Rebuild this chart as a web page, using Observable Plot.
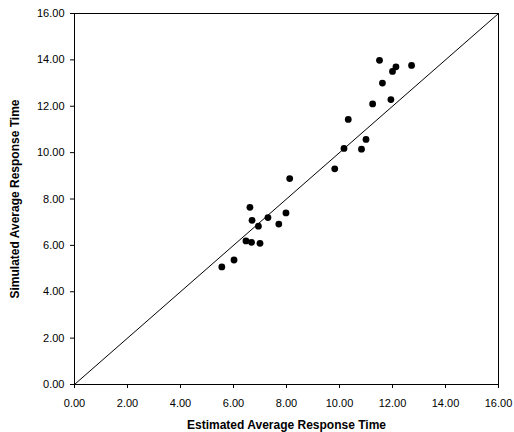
<!DOCTYPE html>
<html>
<head>
<meta charset="utf-8">
<script src="https://cdn.jsdelivr.net/npm/d3@7"></script>
<script src="https://cdn.jsdelivr.net/npm/@observablehq/plot@0.6"></script>
<style>
  body { margin: 0; background: #fff; }
  #chart { position: absolute; left: 0; top: 0; }
  g[aria-label="x-axis label"] text, g[aria-label="y-axis label"] text { font-weight: bold; font-size: 12px; }
</style>
</head>
<body>
<div id="chart"></div>
<script>
const estimated = [5.56, 6.02, 6.47, 6.68, 7.00, 6.62, 6.70, 6.94, 7.30, 7.71, 7.98, 8.12,
                   9.82, 10.17, 10.83, 11.00, 10.33, 11.25, 11.94, 11.62, 11.51, 12.00, 12.13, 12.72];
const simulated = [5.07, 5.37, 6.19, 6.13, 6.09, 7.64, 7.08, 6.83, 7.20, 6.92, 7.40, 8.88,
                   9.30, 10.18, 10.15, 10.57, 11.43, 12.10, 12.29, 13.00, 13.98, 13.50, 13.70, 13.76];
const diagonal = [0, 16];
const ticks = [0, 2, 4, 6, 8, 10, 12, 14, 16];

const points = estimated.map((e, i) => ({x: e, y: simulated[i]}));
const line = diagonal.map(v => ({x: v, y: v}));

const chart = Plot.plot({
  width: 514,
  height: 432,
  marginLeft: 74,
  marginRight: 16,
  marginTop: 13,
  marginBottom: 48,
  style: {fontFamily: "'Liberation Sans', Arial, sans-serif", fontSize: "11px", color: "#000", background: "#fff"},
  x: {domain: [0, 16]},
  y: {domain: [0, 16]},
  marks: [
    Plot.frame({stroke: "#000", strokeWidth: 1}),
    Plot.axisX({ticks, tickFormat: d3.format(".2f"), tickSize: 4, tickPadding: 11, fontSize: 11, fill: "#000",
                label: "Estimated Average Response Time", labelAnchor: "center", labelArrow: "none", labelOffset: 44}),
    Plot.axisY({ticks, tickFormat: d3.format(".2f"), tickSize: 4, tickPadding: 6, fontSize: 11, fill: "#000",
                label: "Simulated Average Response Time", labelAnchor: "center", labelArrow: "none", labelOffset: 64}),
    Plot.line(line, {x: "x", y: "y", stroke: "#000", strokeWidth: 1}),
    Plot.dot(points, {x: "x", y: "y", r: 3.4, fill: "#000", stroke: "none"})
  ]
});
document.getElementById("chart").append(chart);
</script>
</body>
</html>
